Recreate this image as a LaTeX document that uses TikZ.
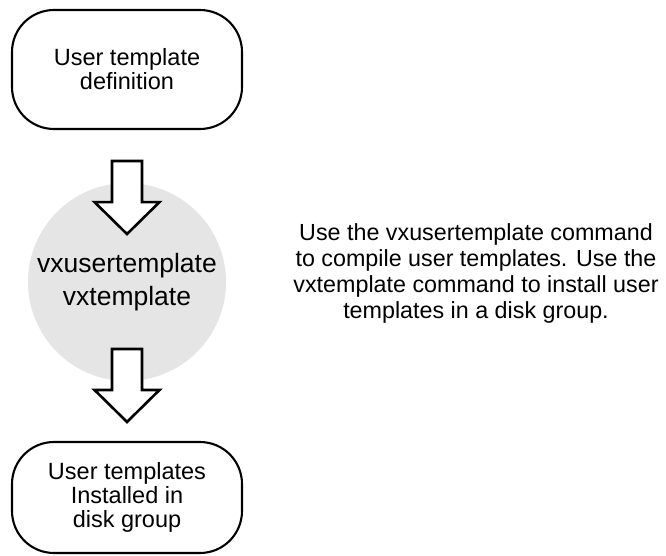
\documentclass[tikz,border=0pt]{standalone}
\usepackage{fontspec}
\setmainfont{Liberation Sans}
\begin{document}
\begin{tikzpicture}[x=1pt,y=-1pt,
  flowbox/.style={draw=black, line width=2.1pt, rounded corners=42pt, minimum width=230pt,
     align=center, inner sep=0pt, font=\fontsize{23.5}{24}\selectfont},
  procdisc/.style={circle, fill=black!10, draw=none, minimum size=198pt, inner sep=0pt,
     align=center, font=\fontsize{26.5}{33}\selectfont},
  notetext/.style={align=center, inner sep=0pt, font=\fontsize{23.3}{26}\selectfont},
  blockarr/.style={draw=black, fill=white, line width=2.6pt, line join=miter}]
\useasboundingbox (0,0) rectangle (666,556);
\node[procdisc] (mid) at (127,282) {vxusertemplate\\vxtemplate};
\node[flowbox, minimum height=119pt] (top) at (127,69.5) {User template\\definition};
\node[flowbox, minimum height=111pt] (bot) at (127,497.5) {User templates\\Installed in\\disk group};
\node[notetext] (note) at (476,273) {Use the vxusertemplate command\\to compile user templates. Use the\\vxtemplate command to install user\\templates in a disk group.};
\coordinate (a1) at ([yshift=-31pt]top.south);
\coordinate (a2) at ([yshift=92pt]bot.north);
\draw[blockarr] (a1) ++(-15,0) -- ++(0,41) -- ++(-17.5,0) -- ++(32.5,32) -- ++(32.5,-32) -- ++(-17.5,0) -- ++(0,-41) -- cycle;
\draw[blockarr] (a2) ++(-15,0) -- ++(0,41) -- ++(-17.5,0) -- ++(32.5,32) -- ++(32.5,-32) -- ++(-17.5,0) -- ++(0,-41) -- cycle;
\end{tikzpicture}
\end{document}
